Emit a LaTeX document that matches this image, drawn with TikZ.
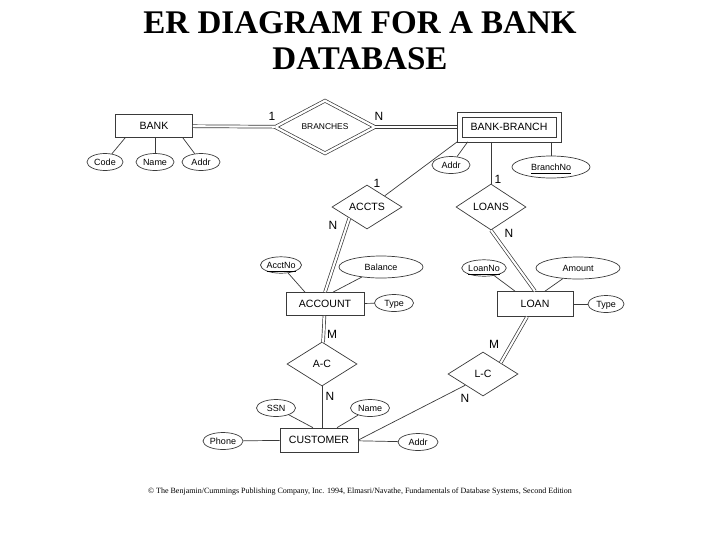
\documentclass[tikz,border=0pt]{standalone}
\usepackage{fontspec}
\setmainfont{Liberation Serif}
\setsansfont{Liberation Sans}
\usetikzlibrary{shapes.geometric, calc}
\newdimen\pxu
\pxu=0.025cm
\definecolor{cline}{HTML}{3A3A3A}
\tikzset{
  every picture/.style={line width=0.5pt},
  entity/.style={draw=cline, rectangle, inner sep=0pt, minimum width=#1, minimum height=23\pxu, font=\sffamily\fontsize{7.5}{9}\selectfont},
  entity/.default=77\pxu,
  weakentity/.style={entity=#1, append after command={
      \pgfextra{\draw[cline] ($(\tikzlastnode.south west)+(-4.5,4.5)$) rectangle ($(\tikzlastnode.north east)+(4.5,-4.5)$);}}},
  relation/.style={draw=cline, diamond, inner sep=0pt, minimum width=70\pxu, minimum height=44\pxu, font=\sffamily\fontsize{7.5}{9}\selectfont},
  idrelation/.style={relation, double, double distance=1.6pt, minimum width=100\pxu, minimum height=48\pxu, font=\sffamily\fontsize{6}{7}\selectfont},
  attr/.style={draw=cline, ellipse, inner sep=0pt, minimum width=#1, minimum height=17\pxu, text height=1.5ex, text depth=0.3ex, font=\sffamily\fontsize{6.4}{7}\selectfont},
  attr/.default=39\pxu,
  card/.style={font=\sffamily\fontsize{8.5}{10}\selectfont, inner sep=0pt},
  link/.style={draw=cline},
  dlink/.style={draw=cline, double, double distance=1.5pt},
}

\begin{document}
\begin{tikzpicture}[x=0.025cm, y=-0.025cm]
  \useasboundingbox (0,0) rectangle (720,540);
  % title
  \node[anchor=base, font=\bfseries\fontsize{23.5}{26}\selectfont] (title1) at (360,33) {ER DIAGRAM FOR A BANK};
  \node[anchor=base, font=\bfseries\fontsize{23.5}{26}\selectfont] (title2) at (360,69) {DATABASE};

  % entities
  \node[entity] (bank) at (154,126) {BANK};
  \node[weakentity=94\pxu, minimum height=20\pxu] (bankbranch) at (509,127) {BANK-BRANCH};
  \node[entity=78\pxu] (account) at (325,304) {ACCOUNT};
  \node[entity=76\pxu, minimum height=25\pxu] (loan) at (535,304) {LOAN};
  \node[entity=78\pxu, minimum height=24\pxu] (customer) at (319,440) {CUSTOMER};

  % relationships
  \node[idrelation] (branches) at (325,127) {BRANCHES};
  \node[relation] (accts) at (367,207) {ACCTS};
  \node[relation, minimum height=46\pxu] (loans) at (491,207) {LOANS};
  \node[relation] (ac) at (322,364) {A-C};
  \node[relation] (lc) at (483,374) {L-C};

  % attributes
  \node[attr=36\pxu] (bcode) at (105,162) {Code};
  \node[attr=38\pxu] (bname) at (155,162) {Name};
  \node[attr=38\pxu] (baddr) at (201,162) {Addr};
  \node[attr=38\pxu] (bbaddr) at (451,165) {Addr};
  \node[attr=78\pxu, minimum height=22\pxu] (branchno) at (551,167) {\underline{BranchNo}};
  \node[attr=40\pxu, minimum height=15\pxu] (acctno) at (281,265) {\underline{AcctNo}};
  \node[attr=84\pxu, minimum height=22\pxu] (balance) at (381,267) {Balance};
  \node[attr] (atype) at (394,303) {Type};
  \node[attr=42\pxu, minimum height=15\pxu] (loanno) at (484,268) {\underline{LoanNo}};
  \node[attr=84\pxu, minimum height=22\pxu] (amount) at (578,268) {Amount};
  \node[attr=36\pxu] (ltype) at (606,304) {Type};
  \node[attr] (ssn) at (276,408) {SSN};
  \node[attr] (cname) at (370,408) {Name};
  \node[attr=40\pxu] (phone) at (223,441) {Phone};
  \node[attr=40\pxu] (caddr) at (418,442) {Addr};

  % connectors
  \draw[dlink] (bank) -- (branches);
  \draw[dlink] (branches) -- ($(bankbranch.west)+(-4.5,0)$);
  \draw[link] ($(bankbranch.south west)+(-4.5,4.5)$) -- (accts.north east);
  \draw[link] (loans.north |- bankbranch.south) ++(0,4.5) -- (loans.north);
  \draw[dlink] (accts.south west) -- (account.north);
  \draw[dlink] (loans.south) -- (loan.north);
  \draw[dlink] (account) -- (ac);
  \draw[link] (ac) -- (ac |- customer.north);
  \draw[dlink] ($(loan.south)+(-8,0)$) -- (lc.north east);
  \draw[link] (lc.south west) -- (customer.east);

  \draw[link] ($(bank.south west)+(10,0)$) -- (bcode);
  \draw[link] (bname |- bank.south) -- (bname);
  \draw[link] ($(bank.south east)+(-10,0)$) -- (baddr);
  \draw[link] ($(bankbranch.south west)+(6,4.5)$) -- (bbaddr);
  \draw[link] (branchno |- bankbranch.south) ++(0,4.5) -- (branchno);
  \draw[link] ($(account.north)+(-20,0)$) -- (acctno);
  \draw[link] ($(account.north)+(8,0)$) -- (balance);
  \draw[link] (account) -- (atype);
  \draw[link] ($(loan.north)+(-20,0)$) -- (loanno);
  \draw[link] ($(loan.north)+(10,0)$) -- (amount);
  \draw[link] (loan) -- (ltype);
  \draw[link] ($(customer.north)+(-6,0)$) -- (ssn);
  \draw[link] ($(customer.north)+(18,0)$) -- (cname);
  \draw[link] (customer) -- (phone);
  \draw[link] (customer) -- (caddr);

  % cardinalities
  \node[card] (c1) at (272,116) {1};
  \node[card] (c2) at (379,116) {N};
  \node[card] (c3) at (377,183) {1};
  \node[card] (c4) at (333,225) {N};
  \node[card] (c5) at (498,179) {1};
  \node[card] (c6) at (509,233) {N};
  \node[card] (c7) at (332,334) {M};
  \node[card] (c8) at (330,396) {N};
  \node[card] (c9) at (494,344) {M};
  \node[card] (c10) at (465,398) {N};

  % credit line
  \node[font=\fontsize{5.7}{7}\selectfont] (credit) at (360,492) {\textcopyright\ The Benjamin/Cummings Publishing Company, Inc. 1994, Elmasri/Navathe, Fundamentals of Database Systems, Second Edition};
\end{tikzpicture}
\end{document}
